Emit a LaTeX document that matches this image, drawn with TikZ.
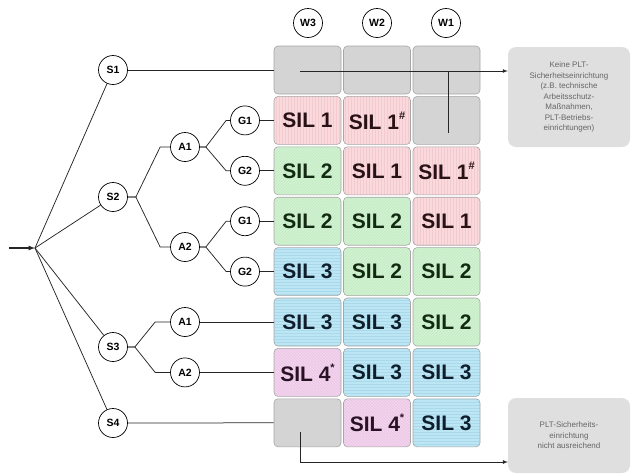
\documentclass[tikz,border=0pt]{standalone}
\usepackage{fontspec}
\setmainfont{Liberation Sans}
\usetikzlibrary{patterns}

\newcommand{\silmark}[1]{\raisebox{0.48em}{\fontsize{11}{11}\selectfont\bfseries #1}}

\begin{document}
\begin{tikzpicture}[x=1pt, y=-1pt,
        knot/.style={circle, draw, line width=0.7pt, minimum size=29pt, inner sep=0pt, font=\fontsize{10.5}{10.5}\selectfont\bfseries},
        cell/.style={rounded corners=4pt, draw=gray!70, line width=0.6pt, minimum width=67pt, minimum height=48pt, inner sep=0pt, font=\fontsize{21}{21}\selectfont\bfseries},
        nosil/.style={cell, fill=grayfill},
        silone/.style={cell, preaction={fill=pinkfill}, pattern=vertical lines, pattern color=pinkline, text=pinktext},
        siltwo/.style={cell, preaction={fill=greenfill}, pattern=north east lines, pattern color=greenline, text=greentext},
        silthree/.style={cell, preaction={fill=bluefill}, pattern=horizontal lines, pattern color=blueline, text=bluetext},
        silfour/.style={cell, preaction={fill=violetfill}, pattern=north west lines, pattern color=violetline, text=violettext},
        wire/.style={line width=0.75pt, draw=black!85},
        note/.style={rounded corners=8pt, fill=gray!25, minimum width=122pt, align=center, text=black!60, font=\fontsize{8}{10.5}\selectfont}
    ]
        \definecolor{grayfill}{RGB}{212,212,212}
        \definecolor{pinkfill}{RGB}{250,217,221}
        \definecolor{pinkline}{RGB}{243,202,207}
        \definecolor{pinktext}{RGB}{40,18,22}
        \definecolor{greenfill}{RGB}{210,243,210}
        \definecolor{greenline}{RGB}{192,233,192}
        \definecolor{greentext}{RGB}{18,42,18}
        \definecolor{bluefill}{RGB}{188,230,244}
        \definecolor{blueline}{RGB}{170,217,235}
        \definecolor{bluetext}{RGB}{15,30,45}
        \definecolor{violetfill}{RGB}{243,212,238}
        \definecolor{violetline}{RGB}{232,196,227}
        \definecolor{violettext}{RGB}{40,18,36}

        \useasboundingbox (0,0) rectangle (631,475);

        % Header
        \node[knot] (W3) at (308,23) {W3};
        \node[knot] (W2) at (377,23) {W2};
        \node[knot] (W1) at (446,23) {W1};

        % Grid
        \node[nosil] (c00) at (307.5,70) {};
        \node[nosil] (c01) at (377,70) {};
        \node[nosil] (c02) at (446.5,70) {};
        \node[silone] (c10) at (307.5,120.4) {SIL 1};
        \node[silone] (c11) at (377,120.4) {SIL 1\silmark{\#}};
        \node[nosil] (c12) at (446.5,120.4) {};
        \node[siltwo] (c20) at (307.5,170.8) {SIL 2};
        \node[silone] (c21) at (377,170.8) {SIL 1};
        \node[silone] (c22) at (446.5,170.8) {SIL 1\silmark{\#}};
        \node[siltwo] (c30) at (307.5,221.2) {SIL 2};
        \node[siltwo] (c31) at (377,221.2) {SIL 2};
        \node[silone] (c32) at (446.5,221.2) {SIL 1};
        \node[silthree] (c40) at (307.5,271.6) {SIL 3};
        \node[siltwo] (c41) at (377,271.6) {SIL 2};
        \node[siltwo] (c42) at (446.5,271.6) {SIL 2};
        \node[silthree] (c50) at (307.5,322) {SIL 3};
        \node[silthree] (c51) at (377,322) {SIL 3};
        \node[siltwo] (c52) at (446.5,322) {SIL 2};
        \node[silfour] (c60) at (307.5,372.4) {SIL 4\silmark{*}};
        \node[silthree] (c61) at (377,372.4) {SIL 3};
        \node[silthree] (c62) at (446.5,372.4) {SIL 3};
        \node[nosil] (c70) at (307.5,422.8) {};
        \node[silfour] (c71) at (377,422.8) {SIL 4\silmark{*}};
        \node[silthree] (c72) at (446.5,422.8) {SIL 3};

        % Notes
        \node[note, minimum height=100pt] (box1) at (569,97) {Keine PLT-\\Sicherheitseinrichtung\\(z.B. technische\\Arbeitsschutz-\\Maßnahmen,\\PLT-Betriebs-\\einrichtungen)};
        \node[note, minimum height=75pt] (box2) at (569,435.5) {PLT-Sicherheits-\\einrichtung\\nicht ausreichend};

        % Tree
        \coordinate (src) at (9,248);
        \coordinate (in) at (35,248);
        \node[knot] (S1) at (113,70) {S1};
        \node[knot] (S2) at (113,197) {S2};
        \node[knot] (S3) at (113,347) {S3};
        \node[knot] (S4) at (113,423) {S4};
        \node[knot] (a21) at (185,147) {A1};
        \node[knot] (a22) at (185,247) {A2};
        \node[knot] (g11) at (245,120.4) {G1};
        \node[knot] (g12) at (245,170.8) {G2};
        \node[knot] (g21) at (245,221.2) {G1};
        \node[knot] (g22) at (245,271.6) {G2};
        \node[knot] (a31) at (185,322) {A1};
        \node[knot] (a32) at (185,372.4) {A2};

        % Drawing
        \draw[wire, line width=1.2pt, -latex] (src) -- (in);
        \draw[wire] (in) -- (S1);
        \draw[wire] (in) -- (S2);
        \draw[wire] (in) -- (S3);
        \draw[wire] (in) -- (S4);
        \draw[wire] (S2.east) -- ++(8,0) -- ([xshift=-10pt]a21.west) -- (a21.west);
        \draw[wire] (S2.east) -- ++(8,0) -- ([xshift=-10pt]a22.west) -- (a22.west);
        \draw[wire] (a21.east) -- ++(6,0) -- ([xshift=-4pt]g11.west) -- (g11.west);
        \draw[wire] (a21.east) -- ++(6,0) -- ([xshift=-4pt]g12.west) -- (g12.west);
        \draw[wire] (a22.east) -- ++(6,0) -- ([xshift=-4pt]g21.west) -- (g21.west);
        \draw[wire] (a22.east) -- ++(6,0) -- ([xshift=-4pt]g22.west) -- (g22.west);
        \draw[wire] (S3.east) -- ++(7,0) -- ([xshift=-15pt]a31.west) -- (a31.west);
        \draw[wire] (S3.east) -- ++(7,0) -- ([xshift=-15pt]a32.west) -- (a32.west);
        \draw[wire] (S1) -- (c00.west);
        \draw[wire] (g11) -- (c10.west);
        \draw[wire] (g12) -- (c20.west);
        \draw[wire] (g21) -- (c30.west);
        \draw[wire] (g22) -- (c40.west);
        \draw[wire] (a31) -- (c50.west);
        \draw[wire] (a32) -- (c60.west);
        \draw[wire] (S4) -- (c70.west);

        % Exits
        \coordinate (t1) at (300,71);
        \coordinate (t2) at (448,133);
        \coordinate (b1) at (300,432);
        \coordinate (b2) at (508,462);
        \draw[wire, -latex] (t1) -- (t1 -| box1.west);
        \draw[wire] (t2) -- (t2 |- t1);
        \draw[wire, -latex] (b1) |- (b2);
    \end{tikzpicture}
\end{document}
